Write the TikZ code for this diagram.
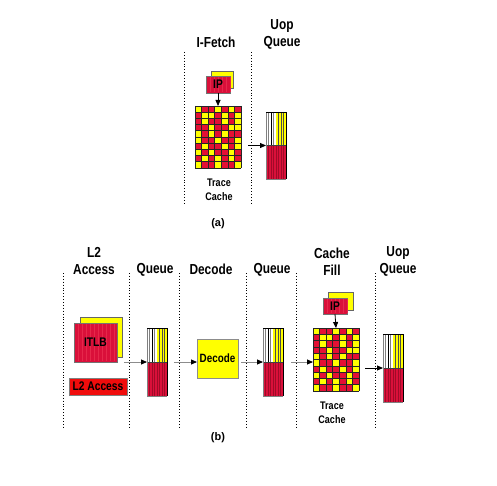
\documentclass[tikz,border=0pt]{standalone}
\usepackage{fontspec}
\setmainfont{Liberation Sans}
\newfontfamily\narrowfont[FakeStretch=0.82]{Liberation Sans}
\usetikzlibrary{arrows.meta,calc}
\definecolor{crim}{RGB}{218,16,58}
\definecolor{crimd}{RGB}{160,10,40}
\definecolor{crimL}{RGB}{230,40,75}
\definecolor{redL}{RGB}{240,12,12}
\definecolor{cY}{RGB}{255,255,0}
\definecolor{cR}{RGB}{228,16,52}
\tikzset{
  x=1pt, y=-1pt,
  title/.style={font=\narrowfont\bfseries\fontsize{14.5}{17}\selectfont, align=center, inner sep=0},
  small/.style={font=\narrowfont\bfseries\fontsize{11}{14}\selectfont, align=center, inner sep=0},
  sublabel/.style={font=\bfseries\fontsize{11}{12}\selectfont, inner sep=0},
  divider/.style={black, dotted, line width=0.9pt},
  arr/.style={-{Triangle[length=6pt,width=5pt,black]}, black!45, line width=0.8pt},
  darr/.style={-{Triangle[length=6pt,width=5pt,black]}, black, line width=0.8pt},
  blk/.style={inner sep=0, anchor=north west, outer sep=0},
  backbox/.style={blk, fill=cY, draw=black!60, line width=0.6pt},
  frontbox/.style={blk, fill=crim, draw=black!55, line width=0.6pt,
     font=\narrowfont\bfseries\fontsize{12.5}{14}\selectfont},
}
% queue stripes drawn inside a named node of width 20
\newcommand\queuedraw[2]{%
 \begin{scope}[shift={(#1.north west)}]
  \fill[white] (0,0) rectangle (10,#2/2);
  \fill[cY] (10,0) rectangle (20,#2/2);
  \fill[crim] (0,#2/2) rectangle (20,#2);
  \foreach \xx/\cc in {2.5/gray,5/black,7.5/gray}{\draw[\cc,line width=0.6pt] (\xx,0) -- (\xx,#2/2);}
  \foreach \xx in {12.5,15,17.5}{\draw[black!70,line width=0.6pt] (\xx,0) -- (\xx,#2/2);}
  \foreach \xx in {2.5,5,7.5,10,12.5,15,17.5}{\draw[crimd,line width=0.5pt] (\xx,#2/2) -- (\xx,#2);}
  \draw[black!75,line width=0.8pt] (0,#2/2) -- (20,#2/2);
  \draw[gray,line width=0.8pt] (0,0) -- (0,#2) -- (20,#2);
  \draw[black,line width=0.8pt] (0,0) -- (20,0) -- (20,#2);
 \end{scope}}
% trace cache grid: 7 x 10 cells inside a named node of 46 x #2
\newcommand\griddraw[2]{%
 \begin{scope}[shift={(#1.north west)}]
  \pgfmathsetmacro\ch{#2/10}
  \foreach \row [count=\r from 0] in {%
    {Y,R,R,Y,R,Y,R},{R,Y,Y,R,Y,R,Y},{R,Y,R,R,Y,R,Y},{R,R,Y,R,R,Y,Y},
    {Y,R,Y,R,Y,R,R},{Y,R,R,Y,R,R,Y},{R,Y,R,R,Y,R,Y},{Y,R,Y,R,R,Y,R},
    {R,Y,R,Y,R,Y,R},{Y,R,R,Y,R,R,Y}}{
    \foreach \v [count=\k from 0] in \row {
      \fill[c\v] (\k*6.571,\r*\ch) rectangle ++(6.571,\ch);
    }
  }
  \foreach \k in {0,...,7}{\draw[black!85,line width=0.6pt] (\k*6.571,0) -- (\k*6.571,#2);}
  \foreach \r in {0,...,10}{\draw[black!85,line width=0.6pt] (0,\r*\ch) -- (46,\r*\ch);}
 \end{scope}}
\newcommand\stripes[3]{% node, width, height
 \begin{scope}[shift={(#1.north west)}]
  \foreach \xx in {4,8,...,#2}{\draw[crimL,line width=0.3pt] (\xx,1) -- (\xx,#3-1);}
 \end{scope}}
\begin{document}
\begin{tikzpicture}
\useasboundingbox (0,0) rectangle (497,486);
% ---------------- (a)
\node[title] (ta1) at (216,42) {I-Fetch};
\node[title] (ta2) at (282,34) {Uop\\Queue};
\draw[divider] (184,52) -- (184,203);
\draw[divider] (251,52) -- (251,203);
\node[backbox, minimum width=22pt, minimum height=17pt] (ipaback) at (211,71) {};
\node[frontbox, minimum width=24pt, minimum height=17pt] (ipa) at (206,76) {};
\stripes{ipa}{24}{17}
\node at (ipa.center) [frontbox, anchor=center, fill=none, draw=none] {IP};
\node[blk, minimum width=46pt, minimum height=62pt] (tca) at (195,106) {};
\griddraw{tca}{62}
\draw[darr] (ipa.south) -- (tca.north);
\node[small] (tcat) at (219,190) {Trace\\Cache};
\node[blk, minimum width=20pt, minimum height=67pt] (uqa) at (266,112) {};
\queuedraw{uqa}{67}
\coordinate (aa) at (248,145.5);
\draw[darr] (aa) -- (uqa.west);
\node[sublabel] (la) at (218,224) {(a)};
% ---------------- (b)
\node[title] (tb1) at (94,261.5) {L2\\Access};
\node[title] (tb2) at (155,270) {Queue};
\node[title] (tb3) at (211,269) {Decode};
\node[title] (tb4) at (272,270) {Queue};
\node[title] (tb5) at (332,261.5) {Cache\\Fill};
\node[title] (tb6) at (398,261.5) {Uop\\Queue};
\foreach \xx in {63,129,179,246,296,375}{\draw[divider] (\xx,273) -- (\xx,427);}
\node[backbox, minimum width=42pt, minimum height=40pt] (itlbback) at (80,317) {};
\node[frontbox, minimum width=43pt, minimum height=39pt] (itlb) at (74,323) {};
\stripes{itlb}{43}{39}
\node at (itlb.center) [frontbox, anchor=center, fill=none, draw=none] {ITLB};
\node[frontbox, fill=redL, draw=black!50, minimum width=58pt, minimum height=17pt] (l2) at (69,378) {L2 Access};
\node[blk, minimum width=20pt, minimum height=68pt] (q1) at (147,328) {};
\queuedraw{q1}{68}
\node[blk, fill=cY, draw=black!45, line width=0.8pt, minimum width=41pt, minimum height=39pt,
      font=\narrowfont\bfseries\fontsize{12}{14}\selectfont] (dec) at (197,339) {Decode};
\node[blk, minimum width=20pt, minimum height=68pt] (q2) at (263,328) {};
\queuedraw{q2}{68}
\node[backbox, minimum width=25pt, minimum height=18pt] (ipbback) at (328,292) {};
\node[frontbox, minimum width=24pt, minimum height=16pt] (ipb) at (323,298) {};
\stripes{ipb}{24}{16}
\node at (ipb.center) [frontbox, anchor=center, fill=none, draw=none] {IP};
\node[blk, minimum width=46pt, minimum height=63pt] (tcb) at (313,328) {};
\griddraw{tcb}{63}
\draw[darr] (ipb.south) -- (tcb.north);
\node[small] (tcbt) at (332,412.5) {Trace\\Cache};
\node[blk, minimum width=20pt, minimum height=68pt] (uqb) at (383,334) {};
\queuedraw{uqb}{68}
\coordinate (b1) at (124,362);
\coordinate (b2) at (174,362);
\coordinate (b3) at (241,362);
\coordinate (b4) at (291,362);
\coordinate (b5) at (365,368);
\draw[arr] (b1) -- (b1 -| q1.west);
\draw[arr] (b2) -- (b2 -| dec.west);
\draw[arr] (b3) -- (b3 -| q2.west);
\draw[arr] (b4) -- (b4 -| tcb.west);
\draw[darr] (b5) -- (b5 -| uqb.west);
\node[sublabel] (lb) at (218,438) {(b)};
\end{tikzpicture}
\end{document}
